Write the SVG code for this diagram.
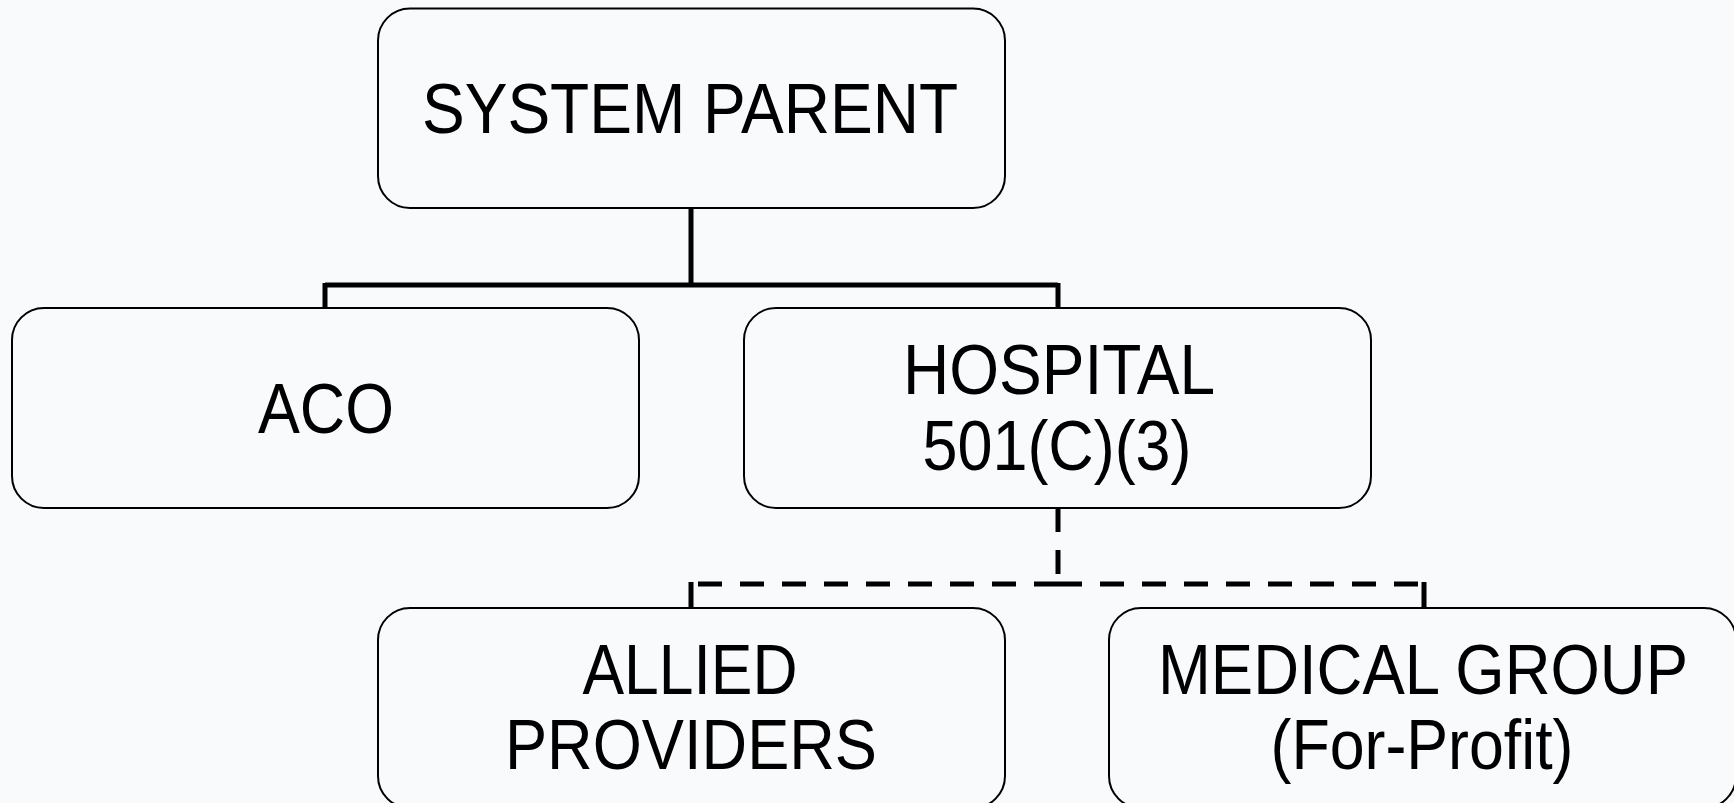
<svg xmlns="http://www.w3.org/2000/svg" width="1734" height="803" viewBox="0 0 1734 803">
<style>
.bg{fill:#f9fafc}
.box{fill:#f9fafc;stroke:#000;stroke-width:2}
.t{font-family:"Liberation Sans",Arial,sans-serif;font-size:70px;fill:#000;text-anchor:middle}
.c{fill:none;stroke:#000;stroke-width:5}
.d{fill:none;stroke:#000;stroke-width:5;stroke-dasharray:24 18}
</style>
<rect class="bg" x="0" y="0" width="1734" height="803"/>
<g id="connectors">
<path class="c" d="M691 208V285M325 285H1058M325 283V308M1058 283V308"/>
<path class="d" d="M1058 508V584"/>
<path class="d" d="M1058 584H691"/>
<path class="d" d="M1058 584H1424"/>
<path class="c" d="M691 582V608M1424 582V608"/>
</g>
<g id="system-parent">
<rect class="box" x="378" y="8.5" width="627" height="199.5" rx="32"/>
<text class="t" x="690" y="133" textLength="536" lengthAdjust="spacingAndGlyphs">SYSTEM PARENT</text>
</g>
<g id="aco">
<rect class="box" x="12" y="308" width="627" height="200" rx="32"/>
<text class="t" x="326" y="433" textLength="136" lengthAdjust="spacingAndGlyphs">ACO</text>
</g>
<g id="hospital">
<rect class="box" x="744" y="308" width="627" height="200" rx="32"/>
<text class="t" x="1059" y="394" textLength="312" lengthAdjust="spacingAndGlyphs">HOSPITAL</text>
<text class="t" x="1057" y="470" textLength="269" lengthAdjust="spacingAndGlyphs">501(C)(3)</text>
</g>
<g id="allied-providers">
<rect class="box" x="378" y="608" width="627" height="200" rx="32"/>
<text class="t" x="690" y="694" textLength="215" lengthAdjust="spacingAndGlyphs">ALLIED</text>
<text class="t" x="691" y="769" textLength="372" lengthAdjust="spacingAndGlyphs">PROVIDERS</text>
</g>
<g id="medical-group">
<rect class="box" x="1109" y="608" width="627" height="200" rx="32"/>
<text class="t" x="1423" y="694" textLength="530" lengthAdjust="spacingAndGlyphs">MEDICAL GROUP</text>
<text class="t" x="1422" y="769" textLength="303" lengthAdjust="spacingAndGlyphs">(For-Profit)</text>
</g>
</svg>
